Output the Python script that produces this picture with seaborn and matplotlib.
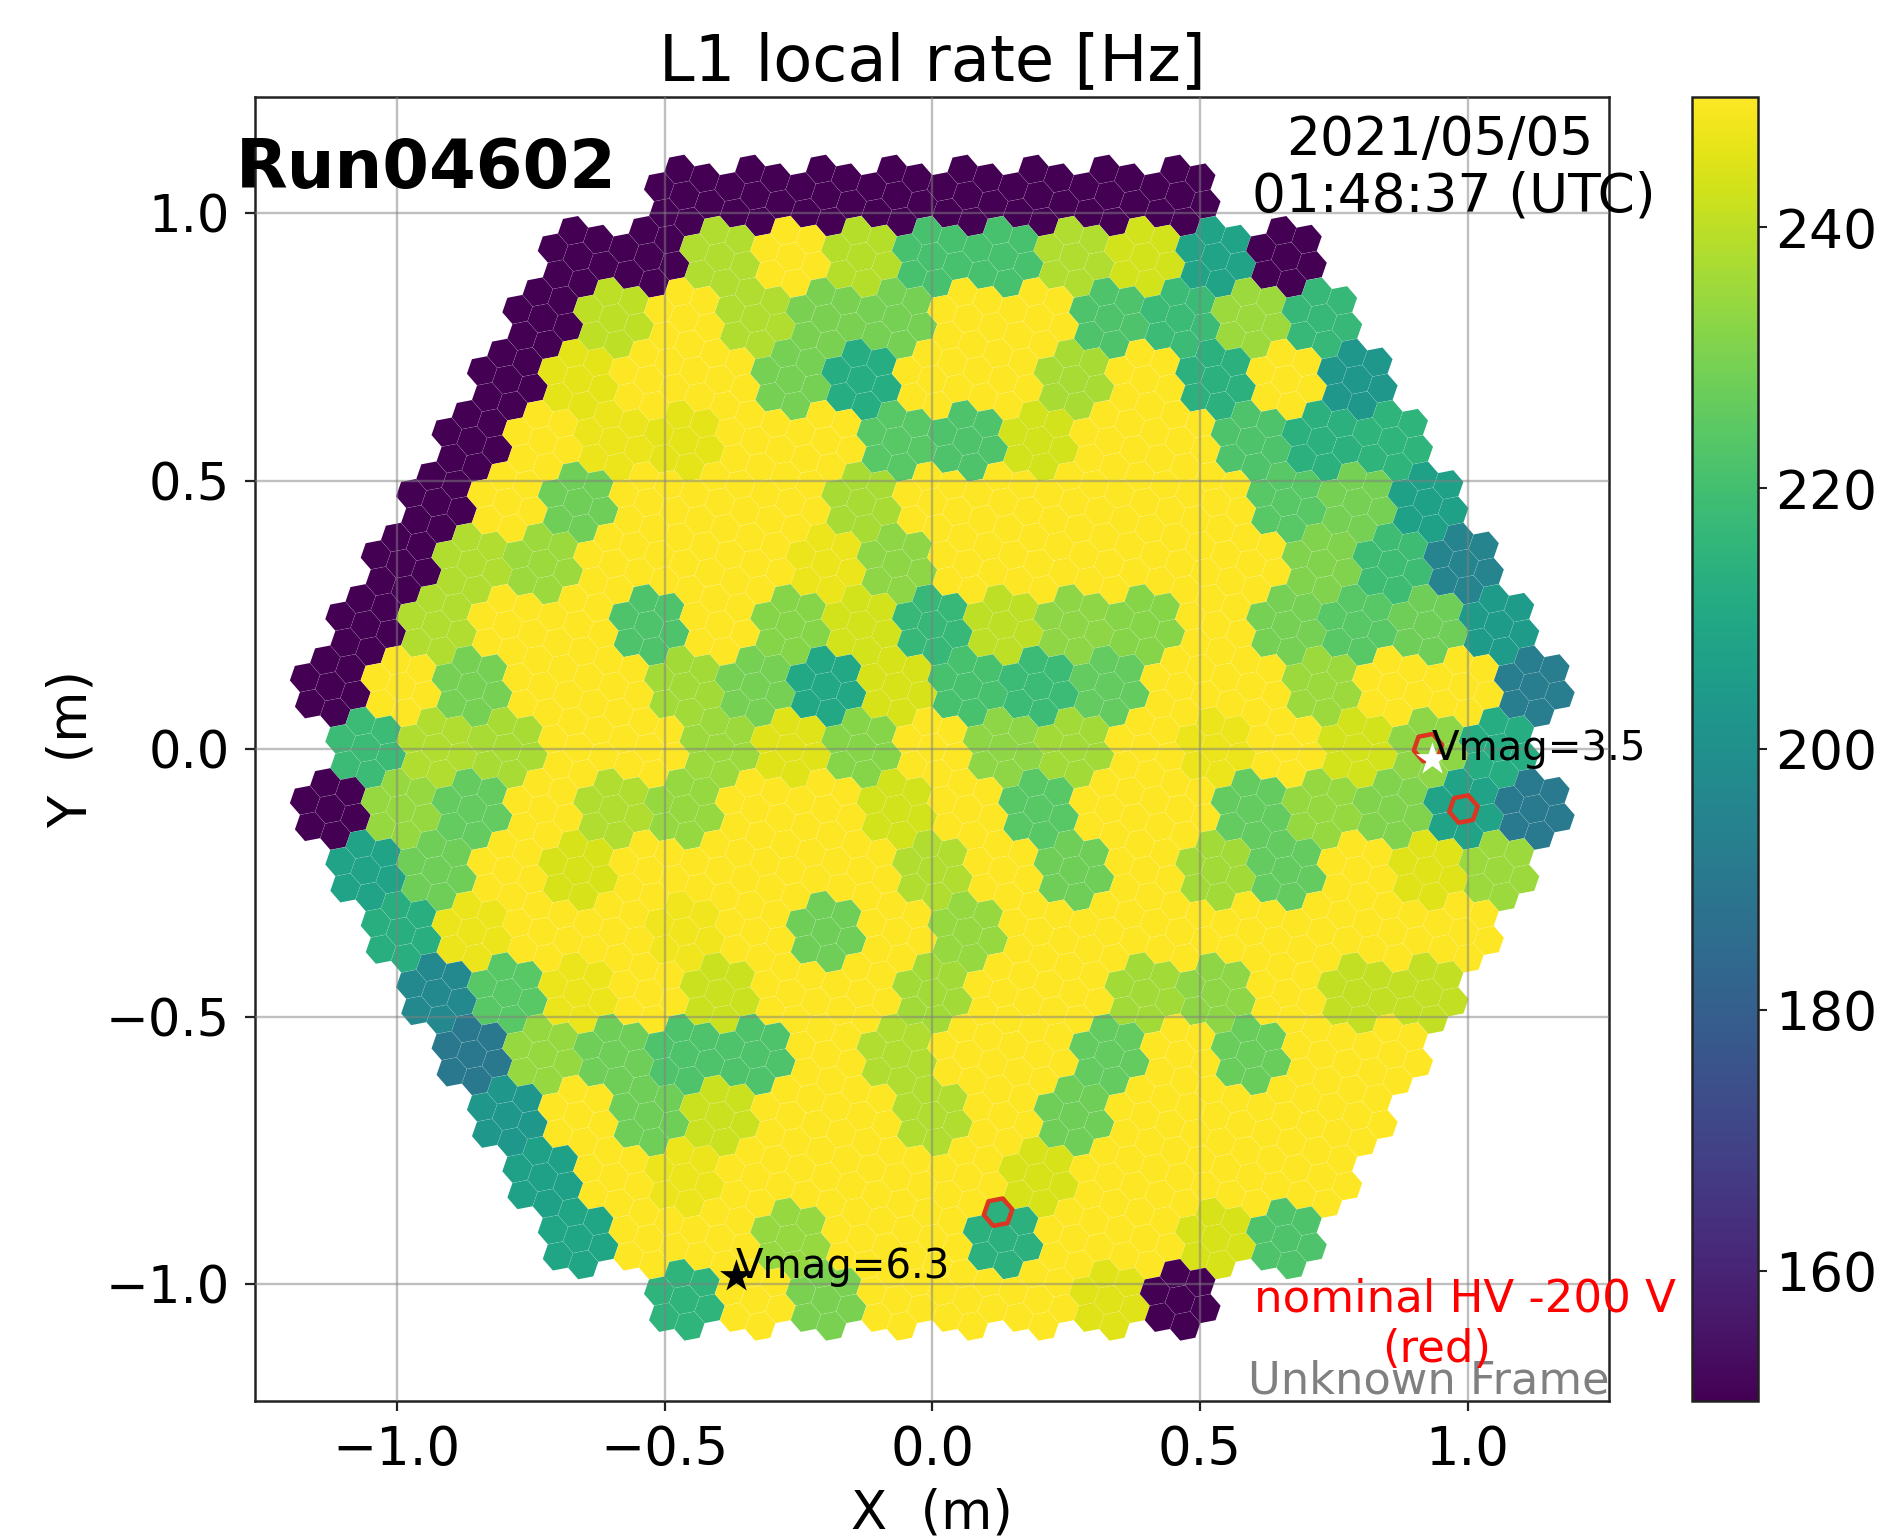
import numpy as np
import pandas as pd
import matplotlib
matplotlib.use("Agg")
import matplotlib.pyplot as plt
from matplotlib.cm import ScalarMappable
from matplotlib.colors import Normalize
import seaborn as sns

# L1 local rate per module, one list per camera row (top to bottom, left to right)
row_p9 = [150, 150, 150, 150, 150, 150, 150, 150]
row_p8 = [150, 150, 238, 250, 239, 221, 221, 238, 243, 208, 150]
row_p7 = [150, 240, 250, 238, 230, 229, 250, 250, 222, 218, 235, 217]
row_p6 = [150, 246, 250, 250, 229, 212, 250, 250, 237, 250, 214, 250, 203]
row_p5 = [150, 250, 247, 246, 250, 250, 224, 222, 243, 250, 250, 222, 214, 215]
row_p4 = [150, 250, 228, 250, 250, 250, 237, 250, 250, 250, 250, 250, 224, 229, 207]
row_p3 = [150, 238, 235, 250, 250, 250, 247, 233, 250, 250, 250, 250, 250, 231, 219, 195]
row_p2 = [150, 238, 250, 250, 222, 250, 232, 243, 217, 240, 233, 232, 250, 229, 224, 228, 205]
row_p1 = [150, 250, 229, 250, 250, 236, 229, 210, 244, 221, 218, 226, 250, 250, 235, 250, 250, 192]
row_00 = [218, 238, 237, 250, 250, 235, 245, 232, 250, 233, 236, 250, 247, 250, 243, 233, 212]
row_m1 = [150, 234, 226, 250, 238, 234, 250, 250, 243, 250, 224, 250, 250, 226, 234, 231, 208, 191]
row_m2 = [208, 228, 250, 244, 250, 250, 250, 250, 238, 250, 228, 250, 236, 226, 250, 245, 235]
row_m3 = [213, 247, 250, 250, 248, 250, 228, 250, 234, 250, 250, 250, 250, 250, 250, 250]
row_m4 = [197, 224, 247, 250, 242, 250, 250, 236, 250, 250, 236, 233, 250, 241, 241]
row_m5 = [190, 234, 228, 222, 222, 250, 238, 250, 250, 226, 250, 227, 250, 250]
row_m6 = [203, 250, 228, 242, 250, 250, 238, 250, 228, 250, 250, 250, 250]
row_m7 = [207, 250, 247, 250, 250, 250, 250, 244, 250, 250, 250, 250]
row_m8 = [209, 250, 250, 234, 250, 250, 214, 250, 250, 244, 222]
row_m9 = [215, 250, 230, 250, 250, 250, 245, 150]

rows = [row_p9, row_p8, row_p7, row_p6, row_p5, row_p4, row_p3, row_p2, row_p1, row_00,
        row_m1, row_m2, row_m3, row_m4, row_m5, row_m6, row_m7, row_m8, row_m9]
row_numbers = list(range(9, -10, -1))

# Highlighted pixels: (row, module index along the row, pixel of the flower)
hv_row = [0, -1, -8]
hv_column = [7, 7.5, 1]
hv_pixel = [0, 0, 3]

star_x = [0.933, -0.367]
star_y = [-0.018, -0.985]
star_colors = ["white", "black"]
star_labels = ["Vmag=3.5", "Vmag=6.3"]

PIXEL_PITCH = 0.05
MODULE_PITCH = PIXEL_PITCH * np.sqrt(7)
ROW_PITCH = MODULE_PITCH * np.sqrt(3) / 2
TILT = -19.1
CAMERA_Y = 0.0023

W, H = 1898, 1538
sns.set_theme(style="ticks")
plt.rcParams["font.family"] = ["DejaVu Sans"]
plt.rcParams["axes.edgecolor"] = "#222222"
plt.rcParams["text.color"] = "black"
plt.rcParams["axes.labelcolor"] = "black"
plt.rcParams["xtick.labelcolor"] = "black"
plt.rcParams["ytick.labelcolor"] = "black"
plt.rcParams["axes.titlecolor"] = "black"

fig = plt.figure(figsize=(W / 100, H / 100), dpi=100, facecolor="white")
L, R, T, B = 255, 1609, 97, 1401
ax = fig.add_axes([L / W, 1 - B / H, (R - L) / W, (B - T) / H])
cax = fig.add_axes([1692 / W, 1 - B / H, 66 / W, (B - T) / H])

xlim = (-1.265, 1.264)
ylim = (-1.2177, 1.2173)


def flower():
    pts = [(0.0, 0.0)]
    for i in range(6):
        a = np.deg2rad(TILT + 60 * i)
        pts.append((PIXEL_PITCH * np.cos(a), PIXEL_PITCH * np.sin(a)))
    return pts


petals = flower()
records = []
for r, vals in zip(row_numbers, rows):
    n = len(vals)
    for i, v in enumerate(vals):
        cx = (i - (n - 1) / 2) * MODULE_PITCH
        cy = r * ROW_PITCH + CAMERA_Y
        for dx, dy in petals:
            records.append((cx + dx, cy + dy, v))
pixels = pd.DataFrame(records, columns=["x", "y", "rate"])

ax.set_xlim(*xlim)
ax.set_ylim(*ylim)
px_per_m = (R - L) / (xlim[1] - xlim[0])
radius_px = PIXEL_PITCH / np.sqrt(3) * px_per_m
size = (2 * radius_px * 0.995 * 72 / 100) ** 2

norm = Normalize(150, 250)
sns.scatterplot(data=pixels, x="x", y="y", hue="rate", hue_norm=norm, palette="viridis",
                marker=(6, 0, TILT), s=size, linewidth=0, legend=False, ax=ax, zorder=2)

hx = [c * MODULE_PITCH + petals[p][0] for c, p in zip(hv_column, hv_pixel)]
hy = [r * ROW_PITCH + CAMERA_Y + petals[p][1] for r, p in zip(hv_row, hv_pixel)]
ax.scatter(hx, hy, marker=(6, 0, TILT), s=(2 * radius_px * 72 / 100) ** 2 * 0.88, facecolors="none",
           edgecolors="#dc3522", linewidths=3.2, zorder=3)

ax.grid(True, color="#808080", alpha=0.5, linewidth=1.7, zorder=4)
ax.set_axisbelow(False)
ax.set_xticks([-1.0, -0.5, 0.0, 0.5, 1.0])
ax.set_yticks([-1.0, -0.5, 0.0, 0.5, 1.0])
ax.tick_params(axis="x", labelsize=38, length=7, width=1.6, pad=9.3, color="#222222")
ax.tick_params(axis="y", labelsize=36.8, length=7, width=1.6, pad=11, color="#222222")
for s in ax.spines.values():
    s.set_visible(True)
    s.set_linewidth(1.8)
ax.set_xlabel("X  (m)", fontsize=38, labelpad=8.5)
ax.set_ylabel("Y  (m)", fontsize=38, labelpad=6)
ax.set_title("L1 local rate [Hz]", fontsize=46, pad=12.5)

for x, y, c, lab in zip(star_x, star_y, star_colors, star_labels):
    ax.scatter([x], [y], marker="*", s=620, color=c, linewidths=0, zorder=5)
    ax.text(x + 0.0, y + 0.018, lab, fontsize=29, color="black", va="center", ha="left", zorder=6)

t = ax.transAxes
fig.text(236 / W, 1 - 169 / H, "Run04602", fontsize=48.3, fontweight="bold", va="center", ha="left", color="black")
fig.text(1440 / W, 1 - 140 / H, "2021/05/05", fontsize=38.4, va="center", ha="center", color="black")
fig.text(1454 / W, 1 - 197 / H, "01:48:37 (UTC)", fontsize=38.4, va="center", ha="center", color="black")
fig.text(1465 / W, 1 - 1299 / H, "nominal HV -200 V", fontsize=32.4, va="center", ha="center", color="red")
fig.text(1437 / W, 1 - 1350 / H, "(red)", fontsize=32.4, va="center", ha="center", color="red")
ax.text(1.0005, -0.0015, "Unknown Frame", transform=t, fontsize=32.2, color="#808080", va="bottom", ha="right")

cb = fig.colorbar(ScalarMappable(norm=norm, cmap="viridis"), cax=cax)
cb.set_ticks([160, 180, 200, 220, 240])
cb.ax.tick_params(labelsize=38.5, length=6.5, width=1.5, pad=6, color="#222222")
cb.outline.set_linewidth(1.8)

fig.savefig("out.png", dpi=100, facecolor="white")
